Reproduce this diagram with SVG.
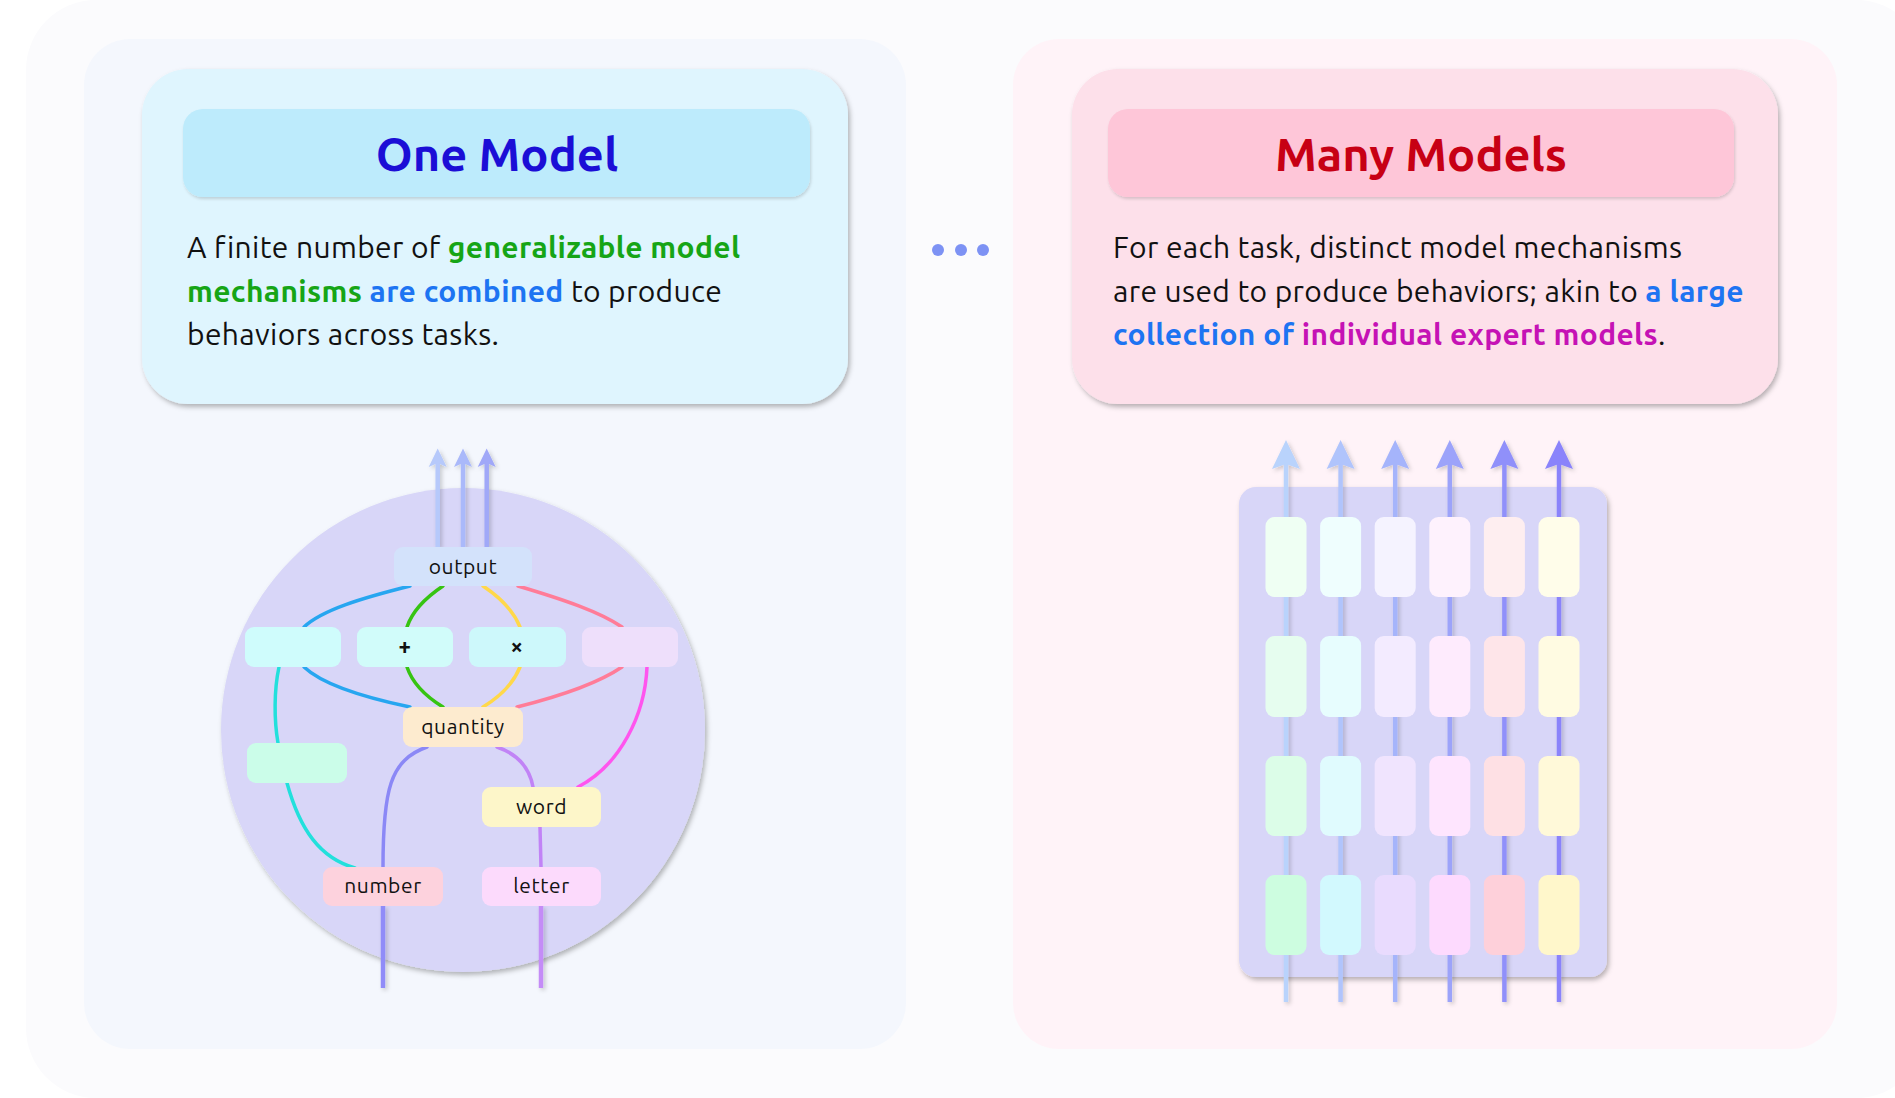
<svg xmlns="http://www.w3.org/2000/svg" width="1895" height="1098" viewBox="0 0 1895 1098">
<defs>
<filter id="sh" x="-10%" y="-10%" width="130%" height="130%"><feDropShadow dx="2" dy="3" stdDeviation="2.5" flood-color="#000" flood-opacity="0.28"/></filter>
<filter id="shs" x="-10%" y="-10%" width="130%" height="130%"><feDropShadow dx="1" dy="2" stdDeviation="1.5" flood-color="#000" flood-opacity="0.15"/></filter>
<filter id="shl" x="-50%" y="-10%" width="200%" height="120%"><feDropShadow dx="2" dy="2" stdDeviation="2" flood-color="#000" flood-opacity="0.2"/></filter>
<style>
text{font-family:Ubuntu,Lato,"Open Sans",sans-serif;fill:#111}
.title{font-size:47px;font-weight:700;text-anchor:middle}
.body{font-size:30px;letter-spacing:0.35px}
.b{font-weight:700}
.g{fill:#16a516}
.bl{fill:#1d74f2}
.mg{fill:#c512b5}
.lbl{font-size:21px;letter-spacing:0.6px;text-anchor:middle}
.c{fill:none;stroke-width:3.5;stroke-linecap:round}
.v{fill:none;stroke-width:4.5}
</style>
</defs>
<rect id="bg" x="26" y="0" width="1900" height="1098" rx="70" fill="#fbfbfd"/>

<g id="left-panel">
<rect x="84" y="39" width="822" height="1010" rx="46" fill="#f4f7fd"/>
<rect x="142" y="69" width="706" height="335" rx="46" fill="#dff5fe" filter="url(#sh)"/>
<rect x="183" y="109" width="627" height="88" rx="20" fill="#bdebfc" filter="url(#shs)"/>
<text class="title" x="497" y="171" style="fill:#1b0ed6">One Model</text>
<text class="body" x="187" y="258">A finite number of <tspan class="b g">generalizable model</tspan></text>
<text class="body" x="187" y="301.5"><tspan class="b g">mechanisms</tspan> <tspan class="b bl">are combined</tspan> to produce</text>
<text class="body" x="187" y="345">behaviors across tasks.</text>
</g>

<g id="right-panel">
<rect x="1013" y="39" width="824" height="1010" rx="46" fill="#fff3f8"/>
<rect x="1072" y="69" width="706" height="335" rx="46" fill="#fde0ea" filter="url(#sh)"/>
<rect x="1108" y="109" width="626" height="88" rx="20" fill="#fec6d8" filter="url(#shs)"/>
<text class="title" x="1421" y="171" style="fill:#c70014">Many Models</text>
<text class="body" x="1113" y="258">For each task, distinct model mechanisms</text>
<text class="body" x="1113" y="301.5">are used to produce behaviors; akin to <tspan class="b bl">a large</tspan></text>
<text class="body" x="1113" y="345"><tspan class="b bl">collection of </tspan><tspan class="b mg">individual expert models</tspan>.</text>
</g>

<g id="ellipsis" fill="#7d92f4">
<circle cx="938" cy="250" r="6"/>
<circle cx="961" cy="250" r="6"/>
<circle cx="983" cy="250" r="6"/>
</g>

<!-- Left diagram -->
<g id="one-model-circle">
<circle cx="463" cy="730" r="242" fill="#d8d6f8" filter="url(#sh)"/>
</g>

<g id="connectors-left">
<g filter="url(#shl)">
<path class="v" d="M437.7 547 V462" stroke="#b6c9fb"/>
<path d="M437.7 448.5 L446.7 467 L437.7 463 L428.7 467 Z" fill="#b6c9fb"/>
<path class="v" d="M463 547 V462" stroke="#aab9fa"/>
<path d="M463 448.5 L472 467 L463 463 L454 467 Z" fill="#aab9fa"/>
<path class="v" d="M486.7 547 V462" stroke="#a0a8f8"/>
<path d="M486.7 448.5 L495.7 467 L486.7 463 L477.7 467 Z" fill="#a0a8f8"/>
<path class="v" d="M383 906 V988" stroke="#908cf8"/>
<path class="v" d="M541 906 V988" stroke="#c48cf7"/>
</g>
<path class="c" stroke="#27a6f0" d="M410 586 C 362 598 322 610 304 627"/>
<path class="c" stroke="#27a6f0" d="M304 667 C 322 684 362 697 410 707"/>
<path class="c" stroke="#36c412" d="M443 586 C 425 598 412 612 407 627"/>
<path class="c" stroke="#36c412" d="M407 667 C 412 682 425 696 443 707"/>
<path class="c" stroke="#ffd84a" d="M483 586 C 501 598 514 612 520 627"/>
<path class="c" stroke="#ffd84a" d="M520 667 C 514 682 501 696 483 707"/>
<path class="c" stroke="#ff7c98" d="M518 586 C 565 600 600 612 622 627"/>
<path class="c" stroke="#ff7c98" d="M622 667 C 600 682 565 695 517 707"/>
<path class="c" stroke="#22e0dc" d="M279 667 C 274 690 274 720 278 743"/>
<path class="c" stroke="#22e0dc" d="M287 783 C 300 830 320 858 355 868"/>
<path class="c" stroke="#ff55ee" d="M647 667 C 645 715 620 765 578 787"/>
<path class="c" stroke="#8b88f6" stroke-width="4" d="M427 747 C 390 760 383 790 383 867"/>
<path class="c" stroke="#c183f6" stroke-width="4" d="M497 747 C 520 755 530 770 533 787"/>
<path class="c" stroke="#c183f6" stroke-width="4" d="M540 827 L541 867"/>
</g>

<g id="n-output"><rect x="394" y="547" width="138" height="39" rx="9" fill="#d3e2fb"/><text class="lbl" x="463" y="574">output</text></g>
<g id="n-blank1"><rect x="245" y="627" width="96" height="40" rx="9" fill="#cffcfc"/></g>
<g id="n-plus"><rect x="357" y="627" width="96" height="40" rx="9" fill="#d1fcfa"/><text class="lbl b" x="405" y="654" style="font-size:22px">+</text></g>
<g id="n-times"><rect x="469" y="627" width="97" height="40" rx="9" fill="#cdf8fb"/><text class="lbl b" x="517" y="654" style="font-size:22px">×</text></g>
<g id="n-blank2"><rect x="582" y="627" width="96" height="40" rx="9" fill="#eedffb"/></g>
<g id="n-quantity"><rect x="403" y="707" width="120" height="40" rx="9" fill="#fdebcf"/><text class="lbl" x="463" y="734">quantity</text></g>
<g id="n-blank3"><rect x="247" y="743" width="100" height="40" rx="9" fill="#cbfde9"/></g>
<g id="n-word"><rect x="482" y="787" width="119" height="40" rx="9" fill="#fdf6c9"/><text class="lbl" x="541.5" y="814">word</text></g>
<g id="n-number"><rect x="323" y="867" width="120" height="39" rx="9" fill="#fdd2dd"/><text class="lbl" x="383" y="893">number</text></g>
<g id="n-letter"><rect x="482" y="867" width="119" height="39" rx="9" fill="#fcdafc"/><text class="lbl" x="541.5" y="893">letter</text></g>

<!-- Right diagram -->
<g id="many-models-panel">
<rect x="1239" y="487" width="368" height="490" rx="17" fill="#d8d6f8" filter="url(#sh)"/>
</g>

<g id="connectors-right" filter="url(#shl)">
<path class="v" stroke-width="5.5" d="M1286 1002 V462" stroke="#b9d3fc"/>
<path d="M1286 440 L1300 469 L1286 464 L1272 469 Z" fill="#b9d3fc"/>
<path class="v" stroke-width="5.5" d="M1340.6 1002 V462" stroke="#b0c4fc"/>
<path d="M1340.6 440 L1354.6 469 L1340.6 464 L1326.6 469 Z" fill="#b0c4fc"/>
<path class="v" stroke-width="5.5" d="M1395.2 1002 V462" stroke="#a5b4fb"/>
<path d="M1395.2 440 L1409.2 469 L1395.2 464 L1381.2 469 Z" fill="#a5b4fb"/>
<path class="v" stroke-width="5.5" d="M1449.8 1002 V462" stroke="#9ca3fa"/>
<path d="M1449.8 440 L1463.8 469 L1449.8 464 L1435.8 469 Z" fill="#9ca3fa"/>
<path class="v" stroke-width="5.5" d="M1504.4 1002 V462" stroke="#9090fa"/>
<path d="M1504.4 440 L1518.4 469 L1504.4 464 L1490.4 469 Z" fill="#9090fa"/>
<path class="v" stroke-width="5.5" d="M1559 1002 V462" stroke="#8a83fb"/>
<path d="M1559 440 L1573 469 L1559 464 L1545 469 Z" fill="#8a83fb"/>
</g>

<g id="col1">
<rect x="1265.5" y="517" width="41" height="80" rx="9" fill="#effff3"/>
<rect x="1265.5" y="636" width="41" height="81" rx="9" fill="#e6fdef"/>
<rect x="1265.5" y="756" width="41" height="80" rx="9" fill="#dcfde8"/>
<rect x="1265.5" y="875" width="41" height="80" rx="9" fill="#cdfde0"/>
</g>
<g id="col2">
<rect x="1320.1" y="517" width="41" height="80" rx="9" fill="#effefe"/>
<rect x="1320.1" y="636" width="41" height="81" rx="9" fill="#e7fdfe"/>
<rect x="1320.1" y="756" width="41" height="80" rx="9" fill="#e0fbfe"/>
<rect x="1320.1" y="875" width="41" height="80" rx="9" fill="#d2f9fe"/>
</g>
<g id="col3">
<rect x="1374.7" y="517" width="41" height="80" rx="9" fill="#f5f3ff"/>
<rect x="1374.7" y="636" width="41" height="81" rx="9" fill="#f3ebff"/>
<rect x="1374.7" y="756" width="41" height="80" rx="9" fill="#f0e4fe"/>
<rect x="1374.7" y="875" width="41" height="80" rx="9" fill="#e9dbfe"/>
</g>
<g id="col4">
<rect x="1429.3" y="517" width="41" height="80" rx="9" fill="#fef2fd"/>
<rect x="1429.3" y="636" width="41" height="81" rx="9" fill="#feebfd"/>
<rect x="1429.3" y="756" width="41" height="80" rx="9" fill="#fee5fe"/>
<rect x="1429.3" y="875" width="41" height="80" rx="9" fill="#fddafe"/>
</g>
<g id="col5">
<rect x="1483.9" y="517" width="41" height="80" rx="9" fill="#feeef0"/>
<rect x="1483.9" y="636" width="41" height="81" rx="9" fill="#fee5e9"/>
<rect x="1483.9" y="756" width="41" height="80" rx="9" fill="#fee0e4"/>
<rect x="1483.9" y="875" width="41" height="80" rx="9" fill="#fed0da"/>
</g>
<g id="col6">
<rect x="1538.5" y="517" width="41" height="80" rx="9" fill="#fffdea"/>
<rect x="1538.5" y="636" width="41" height="81" rx="9" fill="#fffbe2"/>
<rect x="1538.5" y="756" width="41" height="80" rx="9" fill="#fff9d9"/>
<rect x="1538.5" y="875" width="41" height="80" rx="9" fill="#fff7cb"/>
</g>
</svg>
